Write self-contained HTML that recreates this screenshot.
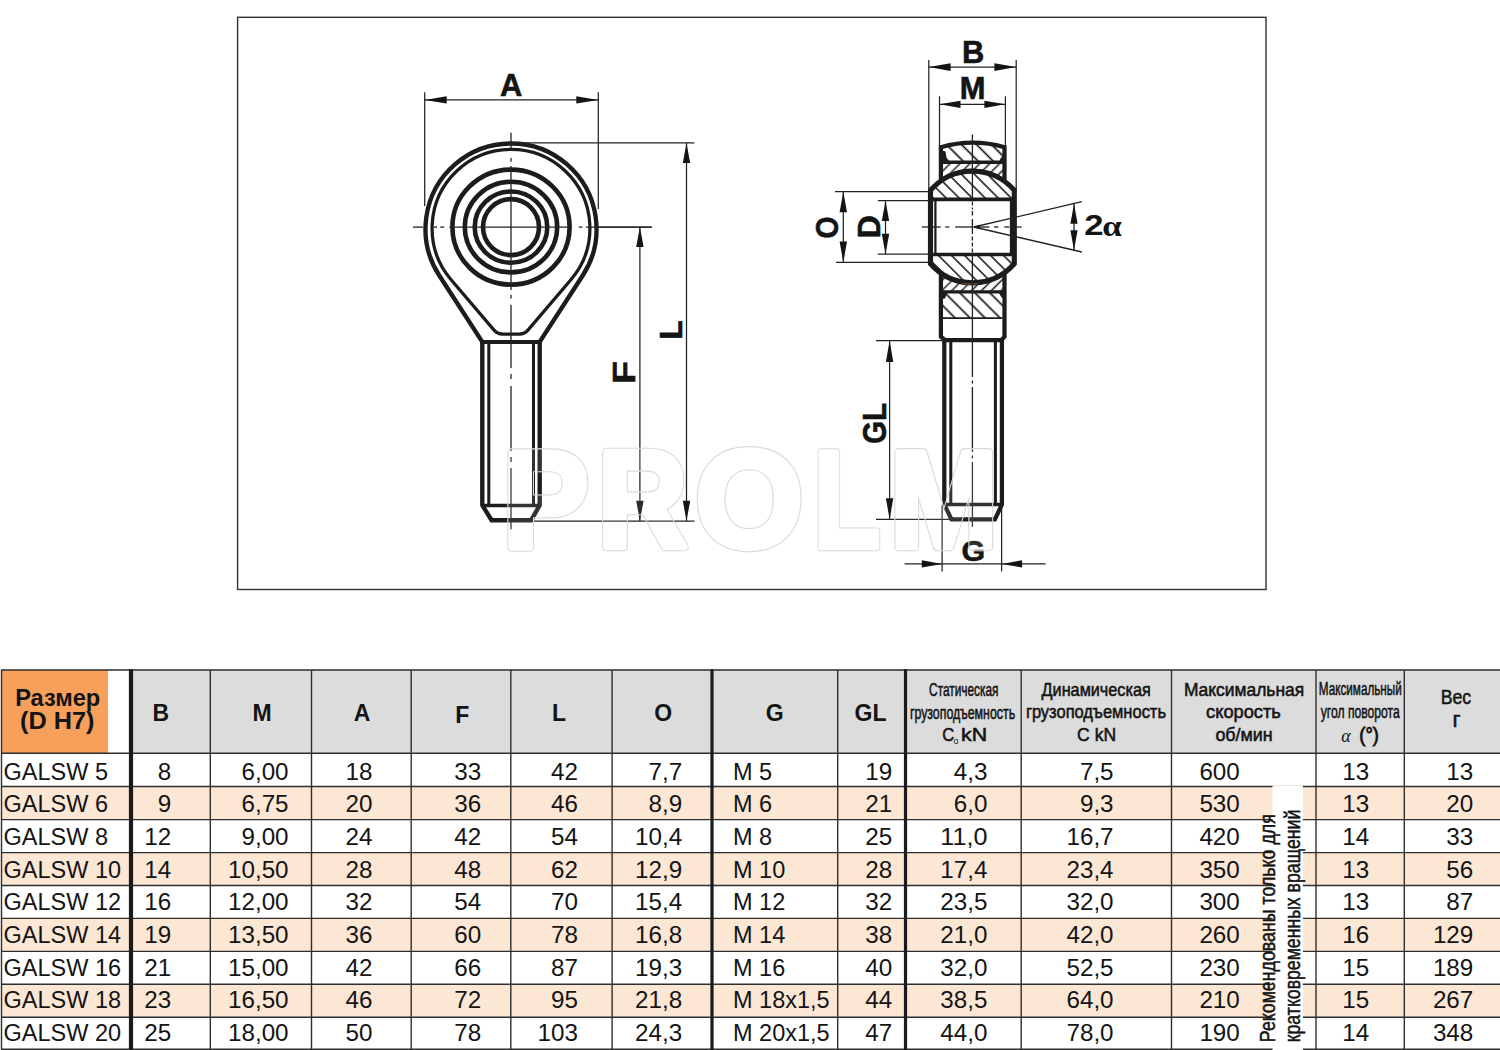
<!DOCTYPE html>
<html><head><meta charset="utf-8"><title>GALSW</title>
<style>
html,body{margin:0;padding:0;background:#fff;width:1500px;height:1050px;overflow:hidden}
svg{display:block;font-family:"Liberation Sans",sans-serif}
text{fill:#141414}
</style></head><body>
<svg width="1500" height="1050" viewBox="0 0 1500 1050">
<rect width="1500" height="1050" fill="#fff"/>
<rect x="237.6" y="17.3" width="1028.4" height="572.2" fill="none" stroke="#333" stroke-width="1.4"/>
<ellipse cx="511.0" cy="227.1" rx="28" ry="28" fill="none" stroke="#1c1c1c" stroke-width="4.6"/>
<ellipse cx="511.0" cy="227.1" rx="36.3" ry="35.6" fill="none" stroke="#1c1c1c" stroke-width="4.6"/>
<ellipse cx="511.0" cy="227.1" rx="46.2" ry="45.3" fill="none" stroke="#1c1c1c" stroke-width="4.6"/>
<ellipse cx="511.0" cy="227.1" rx="58.6" ry="57.5" fill="none" stroke="#1c1c1c" stroke-width="4.6"/>
<path d="M482.3,341.9 L439.26,275.51 A85.5,85.5 0 1 1 582.74,275.51 L539.7,341.9" stroke="#1c1c1c" stroke-width="4.37" fill="none"/>
<path d="M450.91,279.44 L494.06,330.13 Q497.35,334.00 502.43,334.00 H519.57 Q524.65,334.00 527.94,330.13 L571.09,279.44 A78.9,78.9 0 1 0 450.91,279.44 Z" stroke="#1c1c1c" stroke-width="3.25" fill="none"/>
<line x1="480.50" y1="341.90" x2="541.50" y2="341.90" stroke="#1c1c1c" stroke-width="4.03" stroke-linecap="butt"/>
<path d="M482.3,341.9 V505.2 L491.6,520.2 H531.2 L539.7,505.2 V341.9" stroke="#1c1c1c" stroke-width="4.37" fill="none"/>
<line x1="488.80" y1="341.90" x2="488.80" y2="505.50" stroke="#1c1c1c" stroke-width="3.02" stroke-linecap="butt"/>
<line x1="533.50" y1="341.90" x2="533.50" y2="505.50" stroke="#1c1c1c" stroke-width="3.02" stroke-linecap="butt"/>
<line x1="482.30" y1="505.50" x2="539.70" y2="505.50" stroke="#1c1c1c" stroke-width="3.58" stroke-linecap="butt"/>
<line x1="511.00" y1="132.80" x2="511.00" y2="151.00" stroke="#222222" stroke-width="1.3" stroke-linecap="butt"/>
<line x1="511.00" y1="158.00" x2="511.00" y2="161.70" stroke="#222222" stroke-width="1.3" stroke-linecap="butt"/>
<line x1="511.00" y1="166.00" x2="511.00" y2="290.00" stroke="#222222" stroke-width="1.3" stroke-linecap="butt"/>
<line x1="511.00" y1="294.80" x2="511.00" y2="298.60" stroke="#222222" stroke-width="1.3" stroke-linecap="butt"/>
<line x1="511.00" y1="304.80" x2="511.00" y2="368.00" stroke="#222222" stroke-width="1.3" stroke-linecap="butt"/>
<line x1="511.00" y1="374.00" x2="511.00" y2="379.00" stroke="#222222" stroke-width="1.3" stroke-linecap="butt"/>
<line x1="511.00" y1="386.00" x2="511.00" y2="451.00" stroke="#222222" stroke-width="1.3" stroke-linecap="butt"/>
<line x1="511.00" y1="457.00" x2="511.00" y2="462.00" stroke="#222222" stroke-width="1.3" stroke-linecap="butt"/>
<line x1="511.00" y1="468.00" x2="511.00" y2="529.20" stroke="#222222" stroke-width="1.3" stroke-linecap="butt"/>
<line x1="413.00" y1="227.10" x2="423.00" y2="227.10" stroke="#222222" stroke-width="1.3" stroke-linecap="butt"/>
<line x1="433.80" y1="227.10" x2="437.00" y2="227.10" stroke="#222222" stroke-width="1.3" stroke-linecap="butt"/>
<line x1="440.20" y1="227.10" x2="444.20" y2="227.10" stroke="#222222" stroke-width="1.3" stroke-linecap="butt"/>
<line x1="449.40" y1="227.10" x2="572.00" y2="227.10" stroke="#222222" stroke-width="1.3" stroke-linecap="butt"/>
<line x1="578.80" y1="227.10" x2="582.40" y2="227.10" stroke="#222222" stroke-width="1.3" stroke-linecap="butt"/>
<line x1="586.00" y1="227.10" x2="652.00" y2="227.10" stroke="#222222" stroke-width="1.3" stroke-linecap="butt"/>
<line x1="424.70" y1="92.20" x2="424.70" y2="206.00" stroke="#222222" stroke-width="1.25" stroke-linecap="butt"/>
<line x1="598.30" y1="92.20" x2="598.30" y2="209.00" stroke="#222222" stroke-width="1.25" stroke-linecap="butt"/>
<line x1="424.70" y1="99.90" x2="598.30" y2="99.90" stroke="#222222" stroke-width="1.25" stroke-linecap="butt"/>
<path d="M424.70,99.90 L446.70,96.30 L446.70,103.50 Z" fill="#141414"/>
<path d="M598.30,99.90 L576.30,103.50 L576.30,96.30 Z" fill="#141414"/>
<text transform="translate(511.20,85.00) rotate(0)" x="0" y="0" font-size="30.87" font-weight="bold" text-anchor="middle" dominant-baseline="central" stroke="#141414" stroke-width="0.6">A</text>
<line x1="511.00" y1="142.90" x2="694.40" y2="142.90" stroke="#222222" stroke-width="1.25" stroke-linecap="butt"/>
<line x1="686.50" y1="142.90" x2="686.50" y2="521.00" stroke="#222222" stroke-width="1.25" stroke-linecap="butt"/>
<path d="M686.50,142.90 L690.20,162.90 L682.80,162.90 Z" fill="#141414"/>
<path d="M686.50,520.80 L682.80,500.80 L690.20,500.80 Z" fill="#141414"/>
<line x1="597.00" y1="227.10" x2="651.40" y2="227.10" stroke="#222222" stroke-width="1.25" stroke-linecap="butt"/>
<line x1="639.90" y1="227.10" x2="639.90" y2="521.00" stroke="#222222" stroke-width="1.25" stroke-linecap="butt"/>
<path d="M639.90,227.10 L643.60,247.10 L636.20,247.10 Z" fill="#141414"/>
<path d="M639.90,520.80 L636.20,500.80 L643.60,500.80 Z" fill="#141414"/>
<line x1="533.00" y1="521.00" x2="694.50" y2="521.00" stroke="#222222" stroke-width="1.25" stroke-linecap="butt"/>
<text transform="translate(671.70,329.90) rotate(-90)" x="0" y="0" font-size="31.36" font-weight="bold" text-anchor="middle" dominant-baseline="central" stroke="#141414" stroke-width="0.6">L</text>
<text transform="translate(624.50,372.40) rotate(-90)" x="0" y="0" font-size="31.36" font-weight="bold" text-anchor="middle" dominant-baseline="central" stroke="#141414" stroke-width="0.6" textLength="23" lengthAdjust="spacingAndGlyphs">F</text>
<defs>
<pattern id="hb" patternUnits="userSpaceOnUse" width="9.2" height="9.2" patternTransform="rotate(-45)"><line x1="4.6" y1="-1" x2="4.6" y2="11" stroke="#1c1c1c" stroke-width="1.6"/></pattern>
<pattern id="hc" patternUnits="userSpaceOnUse" width="10.6" height="10.6" patternTransform="rotate(-45)"><line x1="5.3" y1="-1" x2="5.3" y2="12" stroke="#1c1c1c" stroke-width="1.7"/></pattern>
<pattern id="hf" patternUnits="userSpaceOnUse" width="7" height="7" patternTransform="rotate(45)"><line x1="3.5" y1="-1" x2="3.5" y2="8" stroke="#1c1c1c" stroke-width="1.5"/></pattern>
</defs>
<path d="M940.9,147.2 A115,115 0 0 1 1004.5,147.2 V162.3 H940.9 Z" fill="url(#hc)"/>
<path d="M940.9,162.3 H1004.5 V181.48 A55.7,55.7 0 0 0 940.9,181.06 Z" fill="url(#hf)"/>
<path d="M930.5,190.30 A55.7,55.7 0 0 1 1014.3,190.30 V199.4 H930.5 Z" fill="url(#hb)"/>
<path d="M930.5,254.5 H1014.3 V263.70 A55.7,55.7 0 0 1 930.5,263.70 Z" fill="url(#hb)"/>
<path d="M940.9,272.94 A55.7,55.7 0 0 0 1004.5,272.52 V291.9 H940.9 Z" fill="url(#hf)"/>
<path d="M940.9,291.9 H1004.5 V318 H940.9 Z" fill="url(#hc)"/>
<path d="M940.9,181.06 V147.2 A115,115 0 0 1 1004.5,147.2 V181.48" stroke="#1c1c1c" stroke-width="4.26" fill="none"/>
<line x1="940.90" y1="162.30" x2="1004.50" y2="162.30" stroke="#1c1c1c" stroke-width="3.36" stroke-linecap="butt"/>
<path d="M940.9,150 L945.5,151.5 L946.5,157.5 L948.5,162 H940.9 Z" fill="#1c1c1c"/>
<path d="M1004.5,154 L1000.5,158.5 L999,162 H1004.5 Z" fill="#1c1c1c"/>
<path d="M940.9,292 H947.5 L945,298.5 L940.9,299 Z" fill="#1c1c1c"/>
<path d="M1004.5,292 H998.5 L1001.5,297.5 L1004.5,298 Z" fill="#1c1c1c"/>
<path d="M930.5,190.30 A55.7,55.7 0 0 1 1014.3,190.30 V263.70 A55.7,55.7 0 0 1 930.5,263.70 Z" stroke="#1c1c1c" stroke-width="5.15" fill="none"/>
<line x1="930.50" y1="199.40" x2="1014.30" y2="199.40" stroke="#1c1c1c" stroke-width="3.58" stroke-linecap="butt"/>
<line x1="930.50" y1="254.50" x2="1014.30" y2="254.50" stroke="#1c1c1c" stroke-width="3.58" stroke-linecap="butt"/>
<line x1="935.40" y1="199.40" x2="935.40" y2="254.50" stroke="#1c1c1c" stroke-width="2.24" stroke-linecap="butt"/>
<line x1="1011.20" y1="199.40" x2="1011.20" y2="254.50" stroke="#1c1c1c" stroke-width="2.69" stroke-linecap="butt"/>
<path d="M940.9,179.86 A56.900000000000006,56.900000000000006 0 0 1 1004.5,180.28" stroke="#1c1c1c" stroke-width="3.58" fill="none"/>
<path d="M940.9,274.14 A56.900000000000006,56.900000000000006 0 0 0 1004.5,273.72" stroke="#1c1c1c" stroke-width="3.58" fill="none"/>
<path d="M962,283.60 Q970,284.30 978,283.60" stroke="#6a4526" stroke-width="1.4" fill="none"/>
<path d="M940.9,272.94 V336.7 L945,340.2 H1001.5 L1004.5,336.7 V272.52" stroke="#1c1c1c" stroke-width="4.26" fill="none"/>
<line x1="940.90" y1="291.90" x2="1004.50" y2="291.90" stroke="#1c1c1c" stroke-width="3.36" stroke-linecap="butt"/>
<line x1="943.00" y1="318.10" x2="1002.50" y2="318.10" stroke="#1c1c1c" stroke-width="1.57" stroke-linecap="butt"/>
<path d="M944.3,340.2 V504.5 L951.5,519.4 H994.9 L1001.9,504.5 V340.2" stroke="#1c1c1c" stroke-width="4.26" fill="none"/>
<line x1="950.80" y1="340.20" x2="950.80" y2="504.50" stroke="#1c1c1c" stroke-width="3.02" stroke-linecap="butt"/>
<line x1="995.40" y1="340.20" x2="995.40" y2="504.50" stroke="#1c1c1c" stroke-width="3.02" stroke-linecap="butt"/>
<line x1="944.30" y1="504.50" x2="1001.90" y2="504.50" stroke="#1c1c1c" stroke-width="3.36" stroke-linecap="butt"/>
<line x1="972.40" y1="134.50" x2="972.40" y2="201.00" stroke="#222222" stroke-width="1.3" stroke-linecap="butt"/>
<line x1="972.40" y1="201.50" x2="972.40" y2="205.50" stroke="#222222" stroke-width="1.3" stroke-linecap="butt"/>
<line x1="972.40" y1="207.50" x2="972.40" y2="209.50" stroke="#222222" stroke-width="1.3" stroke-linecap="butt"/>
<line x1="972.40" y1="211.00" x2="972.40" y2="215.50" stroke="#222222" stroke-width="1.3" stroke-linecap="butt"/>
<line x1="972.40" y1="219.00" x2="972.40" y2="234.00" stroke="#222222" stroke-width="1.3" stroke-linecap="butt"/>
<line x1="972.40" y1="236.50" x2="972.40" y2="240.50" stroke="#222222" stroke-width="1.3" stroke-linecap="butt"/>
<line x1="972.40" y1="242.50" x2="972.40" y2="246.50" stroke="#222222" stroke-width="1.3" stroke-linecap="butt"/>
<line x1="972.40" y1="248.50" x2="972.40" y2="252.50" stroke="#222222" stroke-width="1.3" stroke-linecap="butt"/>
<line x1="972.40" y1="253.00" x2="972.40" y2="377.00" stroke="#222222" stroke-width="1.3" stroke-linecap="butt"/>
<line x1="972.40" y1="380.50" x2="972.40" y2="383.50" stroke="#222222" stroke-width="1.3" stroke-linecap="butt"/>
<line x1="972.40" y1="387.00" x2="972.40" y2="452.00" stroke="#222222" stroke-width="1.3" stroke-linecap="butt"/>
<line x1="972.40" y1="455.50" x2="972.40" y2="458.50" stroke="#222222" stroke-width="1.3" stroke-linecap="butt"/>
<line x1="972.40" y1="462.00" x2="972.40" y2="526.80" stroke="#222222" stroke-width="1.3" stroke-linecap="butt"/>
<line x1="921.90" y1="227.00" x2="940.70" y2="227.00" stroke="#222222" stroke-width="1.3" stroke-linecap="butt"/>
<line x1="945.30" y1="227.00" x2="949.30" y2="227.00" stroke="#222222" stroke-width="1.3" stroke-linecap="butt"/>
<line x1="955.20" y1="227.00" x2="972.40" y2="227.00" stroke="#222222" stroke-width="1.3" stroke-linecap="butt"/>
<line x1="973.70" y1="227.00" x2="989.50" y2="227.00" stroke="#222222" stroke-width="1.3" stroke-linecap="butt"/>
<line x1="994.00" y1="227.00" x2="998.50" y2="227.00" stroke="#222222" stroke-width="1.3" stroke-linecap="butt"/>
<line x1="1004.30" y1="227.00" x2="1009.30" y2="227.00" stroke="#222222" stroke-width="1.3" stroke-linecap="butt"/>
<line x1="1017.00" y1="227.00" x2="1021.60" y2="227.00" stroke="#222222" stroke-width="1.3" stroke-linecap="butt"/>
<line x1="928.80" y1="59.90" x2="928.80" y2="190.00" stroke="#222222" stroke-width="1.25" stroke-linecap="butt"/>
<line x1="1016.20" y1="59.90" x2="1016.20" y2="190.00" stroke="#222222" stroke-width="1.25" stroke-linecap="butt"/>
<line x1="928.80" y1="67.10" x2="1016.20" y2="67.10" stroke="#222222" stroke-width="1.25" stroke-linecap="butt"/>
<path d="M928.80,67.10 L950.60,63.30 L950.60,70.90 Z" fill="#141414"/>
<path d="M1016.20,67.10 L994.40,70.90 L994.40,63.30 Z" fill="#141414"/>
<text transform="translate(973.10,52.40) rotate(0)" x="0" y="0" font-size="30.87" font-weight="bold" text-anchor="middle" dominant-baseline="central" stroke="#141414" stroke-width="0.6">B</text>
<line x1="939.50" y1="96.30" x2="939.50" y2="149.00" stroke="#222222" stroke-width="1.25" stroke-linecap="butt"/>
<line x1="1005.40" y1="96.30" x2="1005.40" y2="149.00" stroke="#222222" stroke-width="1.25" stroke-linecap="butt"/>
<line x1="939.50" y1="104.30" x2="1005.40" y2="104.30" stroke="#222222" stroke-width="1.25" stroke-linecap="butt"/>
<path d="M939.50,104.30 L960.50,100.70 L960.50,107.90 Z" fill="#141414"/>
<path d="M1005.40,104.30 L984.40,107.90 L984.40,100.70 Z" fill="#141414"/>
<text transform="translate(972.50,88.10) rotate(0)" x="0" y="0" font-size="30.87" font-weight="bold" text-anchor="middle" dominant-baseline="central" stroke="#141414" stroke-width="0.6">M</text>
<line x1="835.00" y1="191.70" x2="930.00" y2="191.70" stroke="#222222" stroke-width="1.25" stroke-linecap="butt"/>
<line x1="835.90" y1="262.40" x2="930.00" y2="262.40" stroke="#222222" stroke-width="1.25" stroke-linecap="butt"/>
<line x1="843.30" y1="191.70" x2="843.30" y2="262.40" stroke="#222222" stroke-width="1.25" stroke-linecap="butt"/>
<path d="M843.30,191.70 L847.00,212.20 L839.60,212.20 Z" fill="#141414"/>
<path d="M843.30,262.40 L839.60,241.60 L847.00,241.60 Z" fill="#141414"/>
<text transform="translate(827.20,227.40) rotate(-90)" x="0" y="0" font-size="31.85" font-weight="bold" text-anchor="middle" dominant-baseline="central" stroke="#141414" stroke-width="0.6" textLength="22" lengthAdjust="spacingAndGlyphs">O</text>
<line x1="877.80" y1="200.70" x2="935.00" y2="200.70" stroke="#222222" stroke-width="1.25" stroke-linecap="butt"/>
<line x1="877.80" y1="254.20" x2="935.00" y2="254.20" stroke="#222222" stroke-width="1.25" stroke-linecap="butt"/>
<line x1="885.50" y1="200.70" x2="885.50" y2="254.20" stroke="#222222" stroke-width="1.25" stroke-linecap="butt"/>
<path d="M885.50,200.70 L889.20,221.00 L881.80,221.00 Z" fill="#141414"/>
<path d="M885.50,254.20 L881.80,233.70 L889.20,233.70 Z" fill="#141414"/>
<text transform="translate(868.50,226.70) rotate(-90)" x="0" y="0" font-size="31.85" font-weight="bold" text-anchor="middle" dominant-baseline="central" stroke="#141414" stroke-width="0.6">D</text>
<line x1="973.80" y1="227.00" x2="1081.90" y2="201.70" stroke="#222222" stroke-width="1.3" stroke-linecap="butt"/>
<line x1="973.80" y1="227.00" x2="1081.90" y2="252.00" stroke="#222222" stroke-width="1.3" stroke-linecap="butt"/>
<path d="M973.5,227 L980,224.8 L980,229.2 Z" fill="#1c1c1c"/>
<line x1="1074.00" y1="203.70" x2="1074.00" y2="250.00" stroke="#222222" stroke-width="1.25" stroke-linecap="butt"/>
<path d="M1074.00,203.70 L1077.60,223.70 L1070.40,223.70 Z" fill="#141414"/>
<path d="M1074.00,250.30 L1070.40,230.30 L1077.60,230.30 Z" fill="#141414"/>
<text x="1084.2" y="234.7" font-size="30" font-weight="bold" textLength="19.3" lengthAdjust="spacingAndGlyphs">2</text>
<text x="1102.3" y="235.5" font-size="30" font-weight="bold" font-family="Liberation Serif, serif" textLength="19.5" lengthAdjust="spacingAndGlyphs">α</text>
<line x1="876.00" y1="340.60" x2="945.00" y2="340.60" stroke="#222222" stroke-width="1.25" stroke-linecap="butt"/>
<line x1="876.00" y1="519.40" x2="952.00" y2="519.40" stroke="#222222" stroke-width="1.25" stroke-linecap="butt"/>
<line x1="889.60" y1="340.60" x2="889.60" y2="519.40" stroke="#222222" stroke-width="1.25" stroke-linecap="butt"/>
<path d="M889.60,340.60 L893.30,362.10 L885.90,362.10 Z" fill="#141414"/>
<path d="M889.60,519.40 L885.90,498.30 L893.30,498.30 Z" fill="#141414"/>
<text transform="translate(874.50,423.40) rotate(-90)" x="0" y="0" font-size="32.34" font-weight="bold" text-anchor="middle" dominant-baseline="central" stroke="#141414" stroke-width="0.6" textLength="41" lengthAdjust="spacingAndGlyphs">GL</text>
<line x1="942.10" y1="505.00" x2="942.10" y2="571.40" stroke="#222222" stroke-width="1.25" stroke-linecap="butt"/>
<line x1="1001.60" y1="505.00" x2="1001.60" y2="571.40" stroke="#222222" stroke-width="1.25" stroke-linecap="butt"/>
<line x1="904.50" y1="563.90" x2="1045.60" y2="563.90" stroke="#222222" stroke-width="1.25" stroke-linecap="butt"/>
<path d="M942.10,563.90 L921.80,567.60 L921.80,560.20 Z" fill="#141414"/>
<path d="M1001.60,563.90 L1022.10,560.20 L1022.10,567.60 Z" fill="#141414"/>
<text transform="translate(973.20,550.30) rotate(0)" x="0" y="0" font-size="30.38" font-weight="bold" text-anchor="middle" dominant-baseline="central" stroke="#141414" stroke-width="0.6">G</text>
<defs><mask id="wmring" maskUnits="userSpaceOnUse" x="0" y="0" width="1500" height="1050"><g font-size="136.7" font-weight="bold" stroke-linejoin="round"><text x="502.75" y="547" textLength="86.01" lengthAdjust="spacingAndGlyphs" style="fill:#fff" stroke="#fff" stroke-width="8.6">P</text><text x="597.75" y="547" textLength="89.6" lengthAdjust="spacingAndGlyphs" style="fill:#fff" stroke="#fff" stroke-width="8.6">R</text><text x="695.45" y="547" textLength="107.7" lengthAdjust="spacingAndGlyphs" style="fill:#fff" stroke="#fff" stroke-width="8.6">O</text><text x="813.75" y="547" textLength="66.41" lengthAdjust="spacingAndGlyphs" style="fill:#fff" stroke="#fff" stroke-width="8.6">L</text><text x="889.75" y="547" textLength="108.03" lengthAdjust="spacingAndGlyphs" style="fill:#fff" stroke="#fff" stroke-width="8.6">M</text><text x="502.75" y="547" textLength="86.01" lengthAdjust="spacingAndGlyphs" style="fill:#000" stroke="#000" stroke-width="6.4">P</text><text x="597.75" y="547" textLength="89.6" lengthAdjust="spacingAndGlyphs" style="fill:#000" stroke="#000" stroke-width="6.4">R</text><text x="695.45" y="547" textLength="107.7" lengthAdjust="spacingAndGlyphs" style="fill:#000" stroke="#000" stroke-width="6.4">O</text><text x="813.75" y="547" textLength="66.41" lengthAdjust="spacingAndGlyphs" style="fill:#000" stroke="#000" stroke-width="6.4">L</text><text x="889.75" y="547" textLength="108.03" lengthAdjust="spacingAndGlyphs" style="fill:#000" stroke="#000" stroke-width="6.4">M</text></g></mask></defs>
<g font-size="136.7" font-weight="bold" stroke-linejoin="round" opacity="0.1"><text x="502.75" y="547" textLength="86.01" lengthAdjust="spacingAndGlyphs" style="fill:#fff" stroke="#fff" stroke-width="7.5">P</text><text x="597.75" y="547" textLength="89.6" lengthAdjust="spacingAndGlyphs" style="fill:#fff" stroke="#fff" stroke-width="7.5">R</text><text x="695.45" y="547" textLength="107.7" lengthAdjust="spacingAndGlyphs" style="fill:#fff" stroke="#fff" stroke-width="7.5">O</text><text x="813.75" y="547" textLength="66.41" lengthAdjust="spacingAndGlyphs" style="fill:#fff" stroke="#fff" stroke-width="7.5">L</text><text x="889.75" y="547" textLength="108.03" lengthAdjust="spacingAndGlyphs" style="fill:#fff" stroke="#fff" stroke-width="7.5">M</text></g>
<rect x="480" y="420" width="540" height="150" fill="#dadada" mask="url(#wmring)"/>
<rect x="133" y="670.0" width="1367" height="83.29999999999995" fill="#DCDCDC"/>
<rect x="1" y="670.0" width="107" height="83.29999999999995" fill="#F7A05C"/>
<rect x="1" y="786.5" width="1499" height="33.10000000000002" fill="#FCE6D4"/>
<rect x="1" y="852.6" width="1499" height="32.89999999999998" fill="#FCE6D4"/>
<rect x="1" y="918.4" width="1499" height="33.0" fill="#FCE6D4"/>
<rect x="1" y="984.3" width="1499" height="32.90000000000009" fill="#FCE6D4"/>
<line x1="1" y1="670.0" x2="1500" y2="670.0" stroke="#2e2e2e" stroke-width="1.4"/>
<line x1="1" y1="753.3" x2="1500" y2="753.3" stroke="#2e2e2e" stroke-width="1.4"/>
<line x1="1" y1="786.5" x2="1500" y2="786.5" stroke="#2e2e2e" stroke-width="1.4"/>
<line x1="1" y1="819.6" x2="1500" y2="819.6" stroke="#2e2e2e" stroke-width="1.4"/>
<line x1="1" y1="852.6" x2="1500" y2="852.6" stroke="#2e2e2e" stroke-width="1.4"/>
<line x1="1" y1="885.5" x2="1500" y2="885.5" stroke="#2e2e2e" stroke-width="1.4"/>
<line x1="1" y1="918.4" x2="1500" y2="918.4" stroke="#2e2e2e" stroke-width="1.4"/>
<line x1="1" y1="951.4" x2="1500" y2="951.4" stroke="#2e2e2e" stroke-width="1.4"/>
<line x1="1" y1="984.3" x2="1500" y2="984.3" stroke="#2e2e2e" stroke-width="1.4"/>
<line x1="1" y1="1017.2" x2="1500" y2="1017.2" stroke="#2e2e2e" stroke-width="1.4"/>
<line x1="1" y1="1049.3" x2="1500" y2="1049.3" stroke="#2e2e2e" stroke-width="1.4"/>
<line x1="1.5" y1="670.0" x2="1.5" y2="1049.3" stroke="#2e2e2e" stroke-width="1.4"/>
<line x1="210.3" y1="670.0" x2="210.3" y2="1049.3" stroke="#2e2e2e" stroke-width="1.4"/>
<line x1="311.5" y1="670.0" x2="311.5" y2="1049.3" stroke="#2e2e2e" stroke-width="1.4"/>
<line x1="411.2" y1="670.0" x2="411.2" y2="1049.3" stroke="#2e2e2e" stroke-width="1.4"/>
<line x1="510.8" y1="670.0" x2="510.8" y2="1049.3" stroke="#2e2e2e" stroke-width="1.4"/>
<line x1="612.1" y1="670.0" x2="612.1" y2="1049.3" stroke="#2e2e2e" stroke-width="1.4"/>
<line x1="837.7" y1="670.0" x2="837.7" y2="1049.3" stroke="#2e2e2e" stroke-width="1.4"/>
<line x1="1021.2" y1="670.0" x2="1021.2" y2="1049.3" stroke="#2e2e2e" stroke-width="1.4"/>
<line x1="1171.5" y1="670.0" x2="1171.5" y2="1049.3" stroke="#2e2e2e" stroke-width="1.4"/>
<line x1="1316.0" y1="670.0" x2="1316.0" y2="1049.3" stroke="#2e2e2e" stroke-width="1.4"/>
<line x1="1404.3" y1="670.0" x2="1404.3" y2="1049.3" stroke="#2e2e2e" stroke-width="1.4"/>
<line x1="131.0" y1="669.3" x2="131.0" y2="1050" stroke="#1a1a1a" stroke-width="4.2"/>
<line x1="712.0" y1="669.3" x2="712.0" y2="1050" stroke="#1a1a1a" stroke-width="3.2"/>
<line x1="905.5" y1="669.3" x2="905.5" y2="1050" stroke="#1a1a1a" stroke-width="3.2"/>
<rect x="1272.5" y="785.5" width="30.4" height="265" fill="#ffffff"/>
<text x="3.5" y="779.6" font-size="23.5">GALSW 5</text>
<text x="171.3" y="779.6" font-size="23.5" text-anchor="end" textLength="13.46" lengthAdjust="spacingAndGlyphs">8</text>
<text x="288.6" y="779.6" font-size="23.5" text-anchor="end" textLength="47.11" lengthAdjust="spacingAndGlyphs">6,00</text>
<text x="372.4" y="779.6" font-size="23.5" text-anchor="end" textLength="26.92" lengthAdjust="spacingAndGlyphs">18</text>
<text x="481.2" y="779.6" font-size="23.5" text-anchor="end" textLength="26.92" lengthAdjust="spacingAndGlyphs">33</text>
<text x="578.0" y="779.6" font-size="23.5" text-anchor="end" textLength="26.92" lengthAdjust="spacingAndGlyphs">42</text>
<text x="682.2" y="779.6" font-size="23.5" text-anchor="end" textLength="33.65" lengthAdjust="spacingAndGlyphs">7,7</text>
<text x="733.0" y="779.6" font-size="23.5">M 5</text>
<text x="892.2" y="779.6" font-size="23.5" text-anchor="end" textLength="26.92" lengthAdjust="spacingAndGlyphs">19</text>
<text x="987.5" y="779.6" font-size="23.5" text-anchor="end" textLength="33.65" lengthAdjust="spacingAndGlyphs">4,3</text>
<text x="1113.6" y="779.6" font-size="23.5" text-anchor="end" textLength="33.65" lengthAdjust="spacingAndGlyphs">7,5</text>
<text x="1239.8" y="779.6" font-size="23.5" text-anchor="end" textLength="40.39" lengthAdjust="spacingAndGlyphs">600</text>
<text x="1369.3" y="779.6" font-size="23.5" text-anchor="end" textLength="26.92" lengthAdjust="spacingAndGlyphs">13</text>
<text x="1473.3" y="779.6" font-size="23.5" text-anchor="end" textLength="26.92" lengthAdjust="spacingAndGlyphs">13</text>
<text x="3.5" y="812.26" font-size="23.5">GALSW 6</text>
<text x="171.3" y="812.26" font-size="23.5" text-anchor="end" textLength="13.46" lengthAdjust="spacingAndGlyphs">9</text>
<text x="288.6" y="812.26" font-size="23.5" text-anchor="end" textLength="47.11" lengthAdjust="spacingAndGlyphs">6,75</text>
<text x="372.4" y="812.26" font-size="23.5" text-anchor="end" textLength="26.92" lengthAdjust="spacingAndGlyphs">20</text>
<text x="481.2" y="812.26" font-size="23.5" text-anchor="end" textLength="26.92" lengthAdjust="spacingAndGlyphs">36</text>
<text x="578.0" y="812.26" font-size="23.5" text-anchor="end" textLength="26.92" lengthAdjust="spacingAndGlyphs">46</text>
<text x="682.2" y="812.26" font-size="23.5" text-anchor="end" textLength="33.65" lengthAdjust="spacingAndGlyphs">8,9</text>
<text x="733.0" y="812.26" font-size="23.5">M 6</text>
<text x="892.2" y="812.26" font-size="23.5" text-anchor="end" textLength="26.92" lengthAdjust="spacingAndGlyphs">21</text>
<text x="987.5" y="812.26" font-size="23.5" text-anchor="end" textLength="33.65" lengthAdjust="spacingAndGlyphs">6,0</text>
<text x="1113.6" y="812.26" font-size="23.5" text-anchor="end" textLength="33.65" lengthAdjust="spacingAndGlyphs">9,3</text>
<text x="1239.8" y="812.26" font-size="23.5" text-anchor="end" textLength="40.39" lengthAdjust="spacingAndGlyphs">530</text>
<text x="1369.3" y="812.26" font-size="23.5" text-anchor="end" textLength="26.92" lengthAdjust="spacingAndGlyphs">13</text>
<text x="1473.3" y="812.26" font-size="23.5" text-anchor="end" textLength="26.92" lengthAdjust="spacingAndGlyphs">20</text>
<text x="3.5" y="844.9200000000001" font-size="23.5">GALSW 8</text>
<text x="171.3" y="844.9200000000001" font-size="23.5" text-anchor="end" textLength="26.92" lengthAdjust="spacingAndGlyphs">12</text>
<text x="288.6" y="844.9200000000001" font-size="23.5" text-anchor="end" textLength="47.11" lengthAdjust="spacingAndGlyphs">9,00</text>
<text x="372.4" y="844.9200000000001" font-size="23.5" text-anchor="end" textLength="26.92" lengthAdjust="spacingAndGlyphs">24</text>
<text x="481.2" y="844.9200000000001" font-size="23.5" text-anchor="end" textLength="26.92" lengthAdjust="spacingAndGlyphs">42</text>
<text x="578.0" y="844.9200000000001" font-size="23.5" text-anchor="end" textLength="26.92" lengthAdjust="spacingAndGlyphs">54</text>
<text x="682.2" y="844.9200000000001" font-size="23.5" text-anchor="end" textLength="47.11" lengthAdjust="spacingAndGlyphs">10,4</text>
<text x="733.0" y="844.9200000000001" font-size="23.5">M 8</text>
<text x="892.2" y="844.9200000000001" font-size="23.5" text-anchor="end" textLength="26.92" lengthAdjust="spacingAndGlyphs">25</text>
<text x="987.5" y="844.9200000000001" font-size="23.5" text-anchor="end" textLength="47.11" lengthAdjust="spacingAndGlyphs">11,0</text>
<text x="1113.6" y="844.9200000000001" font-size="23.5" text-anchor="end" textLength="47.11" lengthAdjust="spacingAndGlyphs">16,7</text>
<text x="1239.8" y="844.9200000000001" font-size="23.5" text-anchor="end" textLength="40.39" lengthAdjust="spacingAndGlyphs">420</text>
<text x="1369.3" y="844.9200000000001" font-size="23.5" text-anchor="end" textLength="26.92" lengthAdjust="spacingAndGlyphs">14</text>
<text x="1473.3" y="844.9200000000001" font-size="23.5" text-anchor="end" textLength="26.92" lengthAdjust="spacingAndGlyphs">33</text>
<text x="3.5" y="877.58" font-size="23.5">GALSW 10</text>
<text x="171.3" y="877.58" font-size="23.5" text-anchor="end" textLength="26.92" lengthAdjust="spacingAndGlyphs">14</text>
<text x="288.6" y="877.58" font-size="23.5" text-anchor="end" textLength="60.57" lengthAdjust="spacingAndGlyphs">10,50</text>
<text x="372.4" y="877.58" font-size="23.5" text-anchor="end" textLength="26.92" lengthAdjust="spacingAndGlyphs">28</text>
<text x="481.2" y="877.58" font-size="23.5" text-anchor="end" textLength="26.92" lengthAdjust="spacingAndGlyphs">48</text>
<text x="578.0" y="877.58" font-size="23.5" text-anchor="end" textLength="26.92" lengthAdjust="spacingAndGlyphs">62</text>
<text x="682.2" y="877.58" font-size="23.5" text-anchor="end" textLength="47.11" lengthAdjust="spacingAndGlyphs">12,9</text>
<text x="733.0" y="877.58" font-size="23.5">M 10</text>
<text x="892.2" y="877.58" font-size="23.5" text-anchor="end" textLength="26.92" lengthAdjust="spacingAndGlyphs">28</text>
<text x="987.5" y="877.58" font-size="23.5" text-anchor="end" textLength="47.11" lengthAdjust="spacingAndGlyphs">17,4</text>
<text x="1113.6" y="877.58" font-size="23.5" text-anchor="end" textLength="47.11" lengthAdjust="spacingAndGlyphs">23,4</text>
<text x="1239.8" y="877.58" font-size="23.5" text-anchor="end" textLength="40.39" lengthAdjust="spacingAndGlyphs">350</text>
<text x="1369.3" y="877.58" font-size="23.5" text-anchor="end" textLength="26.92" lengthAdjust="spacingAndGlyphs">13</text>
<text x="1473.3" y="877.58" font-size="23.5" text-anchor="end" textLength="26.92" lengthAdjust="spacingAndGlyphs">56</text>
<text x="3.5" y="910.24" font-size="23.5">GALSW 12</text>
<text x="171.3" y="910.24" font-size="23.5" text-anchor="end" textLength="26.92" lengthAdjust="spacingAndGlyphs">16</text>
<text x="288.6" y="910.24" font-size="23.5" text-anchor="end" textLength="60.57" lengthAdjust="spacingAndGlyphs">12,00</text>
<text x="372.4" y="910.24" font-size="23.5" text-anchor="end" textLength="26.92" lengthAdjust="spacingAndGlyphs">32</text>
<text x="481.2" y="910.24" font-size="23.5" text-anchor="end" textLength="26.92" lengthAdjust="spacingAndGlyphs">54</text>
<text x="578.0" y="910.24" font-size="23.5" text-anchor="end" textLength="26.92" lengthAdjust="spacingAndGlyphs">70</text>
<text x="682.2" y="910.24" font-size="23.5" text-anchor="end" textLength="47.11" lengthAdjust="spacingAndGlyphs">15,4</text>
<text x="733.0" y="910.24" font-size="23.5">M 12</text>
<text x="892.2" y="910.24" font-size="23.5" text-anchor="end" textLength="26.92" lengthAdjust="spacingAndGlyphs">32</text>
<text x="987.5" y="910.24" font-size="23.5" text-anchor="end" textLength="47.11" lengthAdjust="spacingAndGlyphs">23,5</text>
<text x="1113.6" y="910.24" font-size="23.5" text-anchor="end" textLength="47.11" lengthAdjust="spacingAndGlyphs">32,0</text>
<text x="1239.8" y="910.24" font-size="23.5" text-anchor="end" textLength="40.39" lengthAdjust="spacingAndGlyphs">300</text>
<text x="1369.3" y="910.24" font-size="23.5" text-anchor="end" textLength="26.92" lengthAdjust="spacingAndGlyphs">13</text>
<text x="1473.3" y="910.24" font-size="23.5" text-anchor="end" textLength="26.92" lengthAdjust="spacingAndGlyphs">87</text>
<text x="3.5" y="942.9" font-size="23.5">GALSW 14</text>
<text x="171.3" y="942.9" font-size="23.5" text-anchor="end" textLength="26.92" lengthAdjust="spacingAndGlyphs">19</text>
<text x="288.6" y="942.9" font-size="23.5" text-anchor="end" textLength="60.57" lengthAdjust="spacingAndGlyphs">13,50</text>
<text x="372.4" y="942.9" font-size="23.5" text-anchor="end" textLength="26.92" lengthAdjust="spacingAndGlyphs">36</text>
<text x="481.2" y="942.9" font-size="23.5" text-anchor="end" textLength="26.92" lengthAdjust="spacingAndGlyphs">60</text>
<text x="578.0" y="942.9" font-size="23.5" text-anchor="end" textLength="26.92" lengthAdjust="spacingAndGlyphs">78</text>
<text x="682.2" y="942.9" font-size="23.5" text-anchor="end" textLength="47.11" lengthAdjust="spacingAndGlyphs">16,8</text>
<text x="733.0" y="942.9" font-size="23.5">M 14</text>
<text x="892.2" y="942.9" font-size="23.5" text-anchor="end" textLength="26.92" lengthAdjust="spacingAndGlyphs">38</text>
<text x="987.5" y="942.9" font-size="23.5" text-anchor="end" textLength="47.11" lengthAdjust="spacingAndGlyphs">21,0</text>
<text x="1113.6" y="942.9" font-size="23.5" text-anchor="end" textLength="47.11" lengthAdjust="spacingAndGlyphs">42,0</text>
<text x="1239.8" y="942.9" font-size="23.5" text-anchor="end" textLength="40.39" lengthAdjust="spacingAndGlyphs">260</text>
<text x="1369.3" y="942.9" font-size="23.5" text-anchor="end" textLength="26.92" lengthAdjust="spacingAndGlyphs">16</text>
<text x="1473.3" y="942.9" font-size="23.5" text-anchor="end" textLength="40.39" lengthAdjust="spacingAndGlyphs">129</text>
<text x="3.5" y="975.56" font-size="23.5">GALSW 16</text>
<text x="171.3" y="975.56" font-size="23.5" text-anchor="end" textLength="26.92" lengthAdjust="spacingAndGlyphs">21</text>
<text x="288.6" y="975.56" font-size="23.5" text-anchor="end" textLength="60.57" lengthAdjust="spacingAndGlyphs">15,00</text>
<text x="372.4" y="975.56" font-size="23.5" text-anchor="end" textLength="26.92" lengthAdjust="spacingAndGlyphs">42</text>
<text x="481.2" y="975.56" font-size="23.5" text-anchor="end" textLength="26.92" lengthAdjust="spacingAndGlyphs">66</text>
<text x="578.0" y="975.56" font-size="23.5" text-anchor="end" textLength="26.92" lengthAdjust="spacingAndGlyphs">87</text>
<text x="682.2" y="975.56" font-size="23.5" text-anchor="end" textLength="47.11" lengthAdjust="spacingAndGlyphs">19,3</text>
<text x="733.0" y="975.56" font-size="23.5">M 16</text>
<text x="892.2" y="975.56" font-size="23.5" text-anchor="end" textLength="26.92" lengthAdjust="spacingAndGlyphs">40</text>
<text x="987.5" y="975.56" font-size="23.5" text-anchor="end" textLength="47.11" lengthAdjust="spacingAndGlyphs">32,0</text>
<text x="1113.6" y="975.56" font-size="23.5" text-anchor="end" textLength="47.11" lengthAdjust="spacingAndGlyphs">52,5</text>
<text x="1239.8" y="975.56" font-size="23.5" text-anchor="end" textLength="40.39" lengthAdjust="spacingAndGlyphs">230</text>
<text x="1369.3" y="975.56" font-size="23.5" text-anchor="end" textLength="26.92" lengthAdjust="spacingAndGlyphs">15</text>
<text x="1473.3" y="975.56" font-size="23.5" text-anchor="end" textLength="40.39" lengthAdjust="spacingAndGlyphs">189</text>
<text x="3.5" y="1008.22" font-size="23.5">GALSW 18</text>
<text x="171.3" y="1008.22" font-size="23.5" text-anchor="end" textLength="26.92" lengthAdjust="spacingAndGlyphs">23</text>
<text x="288.6" y="1008.22" font-size="23.5" text-anchor="end" textLength="60.57" lengthAdjust="spacingAndGlyphs">16,50</text>
<text x="372.4" y="1008.22" font-size="23.5" text-anchor="end" textLength="26.92" lengthAdjust="spacingAndGlyphs">46</text>
<text x="481.2" y="1008.22" font-size="23.5" text-anchor="end" textLength="26.92" lengthAdjust="spacingAndGlyphs">72</text>
<text x="578.0" y="1008.22" font-size="23.5" text-anchor="end" textLength="26.92" lengthAdjust="spacingAndGlyphs">95</text>
<text x="682.2" y="1008.22" font-size="23.5" text-anchor="end" textLength="47.11" lengthAdjust="spacingAndGlyphs">21,8</text>
<text x="733.0" y="1008.22" font-size="23.5">M 18x1,5</text>
<text x="892.2" y="1008.22" font-size="23.5" text-anchor="end" textLength="26.92" lengthAdjust="spacingAndGlyphs">44</text>
<text x="987.5" y="1008.22" font-size="23.5" text-anchor="end" textLength="47.11" lengthAdjust="spacingAndGlyphs">38,5</text>
<text x="1113.6" y="1008.22" font-size="23.5" text-anchor="end" textLength="47.11" lengthAdjust="spacingAndGlyphs">64,0</text>
<text x="1239.8" y="1008.22" font-size="23.5" text-anchor="end" textLength="40.39" lengthAdjust="spacingAndGlyphs">210</text>
<text x="1369.3" y="1008.22" font-size="23.5" text-anchor="end" textLength="26.92" lengthAdjust="spacingAndGlyphs">15</text>
<text x="1473.3" y="1008.22" font-size="23.5" text-anchor="end" textLength="40.39" lengthAdjust="spacingAndGlyphs">267</text>
<text x="3.5" y="1040.88" font-size="23.5">GALSW 20</text>
<text x="171.3" y="1040.88" font-size="23.5" text-anchor="end" textLength="26.92" lengthAdjust="spacingAndGlyphs">25</text>
<text x="288.6" y="1040.88" font-size="23.5" text-anchor="end" textLength="60.57" lengthAdjust="spacingAndGlyphs">18,00</text>
<text x="372.4" y="1040.88" font-size="23.5" text-anchor="end" textLength="26.92" lengthAdjust="spacingAndGlyphs">50</text>
<text x="481.2" y="1040.88" font-size="23.5" text-anchor="end" textLength="26.92" lengthAdjust="spacingAndGlyphs">78</text>
<text x="578.0" y="1040.88" font-size="23.5" text-anchor="end" textLength="40.39" lengthAdjust="spacingAndGlyphs">103</text>
<text x="682.2" y="1040.88" font-size="23.5" text-anchor="end" textLength="47.11" lengthAdjust="spacingAndGlyphs">24,3</text>
<text x="733.0" y="1040.88" font-size="23.5">M 20x1,5</text>
<text x="892.2" y="1040.88" font-size="23.5" text-anchor="end" textLength="26.92" lengthAdjust="spacingAndGlyphs">47</text>
<text x="987.5" y="1040.88" font-size="23.5" text-anchor="end" textLength="47.11" lengthAdjust="spacingAndGlyphs">44,0</text>
<text x="1113.6" y="1040.88" font-size="23.5" text-anchor="end" textLength="47.11" lengthAdjust="spacingAndGlyphs">78,0</text>
<text x="1239.8" y="1040.88" font-size="23.5" text-anchor="end" textLength="40.39" lengthAdjust="spacingAndGlyphs">190</text>
<text x="1369.3" y="1040.88" font-size="23.5" text-anchor="end" textLength="26.92" lengthAdjust="spacingAndGlyphs">14</text>
<text x="1473.3" y="1040.88" font-size="23.5" text-anchor="end" textLength="40.39" lengthAdjust="spacingAndGlyphs">348</text>
<text x="160.7" y="720.7" font-size="23" font-weight="bold" text-anchor="middle">B</text>
<text x="262.0" y="720.7" font-size="23" font-weight="bold" text-anchor="middle">M</text>
<text x="362.0" y="721.3" font-size="23" font-weight="bold" text-anchor="middle">A</text>
<text x="462.2" y="723.0" font-size="23" font-weight="bold" text-anchor="middle">F</text>
<text x="559.0" y="721.3" font-size="23" font-weight="bold" text-anchor="middle">L</text>
<text x="663.1" y="721.0" font-size="23" font-weight="bold" text-anchor="middle">O</text>
<text x="774.8" y="721.0" font-size="23" font-weight="bold" text-anchor="middle">G</text>
<text x="870.5" y="720.5" font-size="23" font-weight="bold" text-anchor="middle">GL</text>
<text x="15.2" y="705.8" font-size="23" font-weight="bold" textLength="85" lengthAdjust="spacingAndGlyphs">Размер</text>
<text x="20.0" y="728.7" font-size="23" font-weight="bold" textLength="74.5" lengthAdjust="spacingAndGlyphs">(D H7)</text>
<text x="929.1" y="695.8" font-size="18.5" textLength="69.4" lengthAdjust="spacingAndGlyphs" stroke="#141414" stroke-width="0.55">Статическая</text>
<text x="909.9" y="718.5" font-size="18.5" textLength="105.2" lengthAdjust="spacingAndGlyphs" stroke="#141414" stroke-width="0.55">грузоподъемность</text>
<text x="1041.6" y="695.5" font-size="18.5" textLength="109.1" lengthAdjust="spacingAndGlyphs" stroke="#141414" stroke-width="0.55">Динамическая</text>
<text x="1025.8999999999999" y="718.3" font-size="18.5" textLength="140.1" lengthAdjust="spacingAndGlyphs" stroke="#141414" stroke-width="0.55">грузоподъемность</text>
<text x="1077.1" y="740.6" font-size="18.5" textLength="39.0" lengthAdjust="spacingAndGlyphs" stroke="#141414" stroke-width="0.55">C kN</text>
<text x="1183.8999999999999" y="695.5" font-size="18.5" textLength="120.3" lengthAdjust="spacingAndGlyphs" stroke="#141414" stroke-width="0.55">Максимальная</text>
<text x="1206.1" y="718.3" font-size="18.5" textLength="74.7" lengthAdjust="spacingAndGlyphs" stroke="#141414" stroke-width="0.55">скорость</text>
<text x="1215.3999999999999" y="740.6" font-size="18.5" textLength="57.3" lengthAdjust="spacingAndGlyphs" stroke="#141414" stroke-width="0.55">об/мин</text>
<text x="1318.8" y="695.0" font-size="18.5" textLength="83.0" lengthAdjust="spacingAndGlyphs" stroke="#141414" stroke-width="0.55">Максимальный</text>
<text x="1320.6999999999998" y="718.3" font-size="18.5" textLength="79.1" lengthAdjust="spacingAndGlyphs" stroke="#141414" stroke-width="0.55">угол поворота</text>
<text x="1440.6999999999998" y="703.7" font-size="20.5" textLength="30.5" lengthAdjust="spacingAndGlyphs" stroke="#141414" stroke-width="0.55">Вес</text>
<text x="1452.3999999999999" y="726.6" font-size="21.5" textLength="8.1" lengthAdjust="spacingAndGlyphs" stroke="#141414" stroke-width="0.55">г</text>
<text x="942.2" y="741" font-size="18.5" textLength="12" lengthAdjust="spacingAndGlyphs" stroke="#141414" stroke-width="0.55">C</text>
<text x="953.5" y="744" font-size="9">o</text>
<text x="961" y="741" font-size="18.5" textLength="26" lengthAdjust="spacingAndGlyphs" stroke="#141414" stroke-width="0.55">kN</text>
<text x="1341.2" y="741.5" font-size="18" font-style="italic" font-family="Liberation Serif, serif">α</text>
<text x="1359.3" y="742" font-size="21" textLength="19.5" lengthAdjust="spacingAndGlyphs" stroke="#141414" stroke-width="0.9">(°)</text>
<text transform="translate(1275.1,1042.2) rotate(-90)" x="0" y="0" font-size="21.3" textLength="228" lengthAdjust="spacingAndGlyphs" stroke="#141414" stroke-width="0.5">Рекомендованы только для</text>
<text transform="translate(1300.3,1042.2) rotate(-90)" x="0" y="0" font-size="21.3" textLength="232.5" lengthAdjust="spacingAndGlyphs" stroke="#141414" stroke-width="0.5">кратковременных вращений</text>
</svg>
</body></html>
